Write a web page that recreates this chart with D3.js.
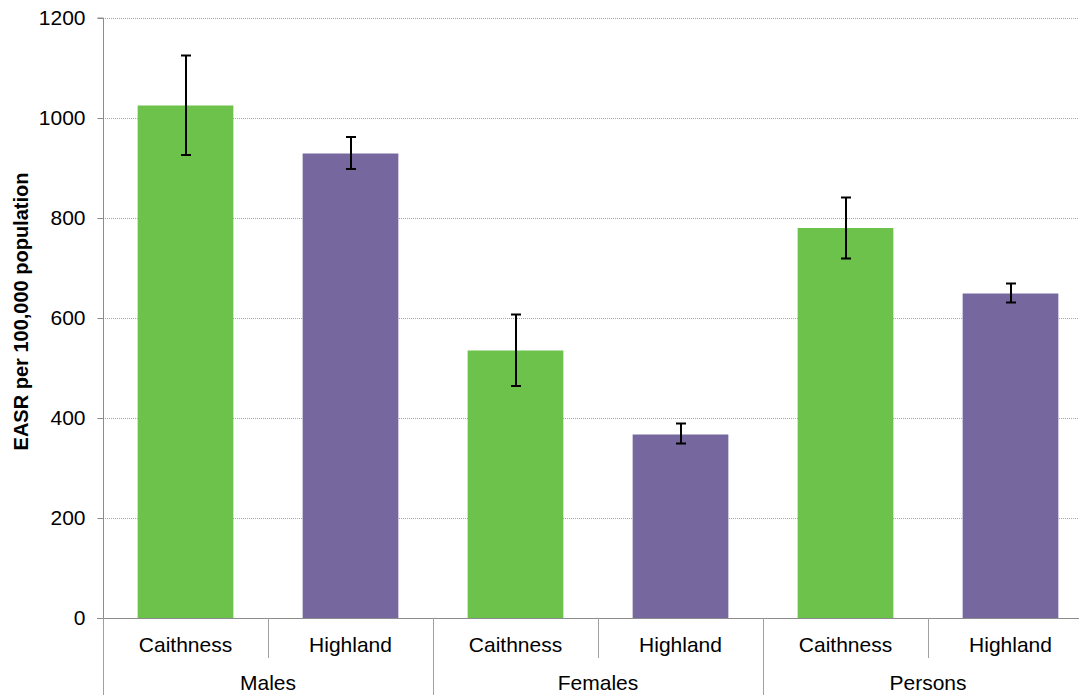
<!DOCTYPE html>
<html>
<head>
<meta charset="utf-8">
<script src="https://cdn.jsdelivr.net/npm/d3@7"></script>
<style>
  html, body { margin: 0; padding: 0; background: #fff; }
  svg { display: block; font-family: "Liberation Sans", Arial, sans-serif; }
</style>
</head>
<body>
<svg id="chart" width="1079" height="695"></svg>
<script>
// ---- data ----
const groups = ["Males", "Females", "Persons"];
const areas = ["Caithness", "Highland"];
const values = [1025, 929, 535, 367, 780, 649];
const lowerCI = [926, 898, 464, 349, 719, 631];
const upperCI = [1125, 962, 607, 389, 841, 669];
const yTicks = [0, 200, 400, 600, 800, 1000, 1200];
const colors = { "Caithness": "#6DC24B", "Highland": "#76689F" };

// build rows
const rows = [];
groups.forEach((g, gi) => areas.forEach((a, ai) => {
  const i = gi * areas.length + ai;
  rows.push({ key: g + "|" + a, group: g, area: a, value: values[i], lo: lowerCI[i], hi: upperCI[i] });
}));

const svg = d3.select("#chart");
const x0 = 103, x1 = 1093, yTop = 18, yBottom = 618;

const x = d3.scaleBand().domain(rows.map(d => d.key)).range([x0, x1]).paddingInner(0.42).paddingOuter(0.21);
const xCat = d3.scaleBand().domain(rows.map(d => d.key)).range([x0, x1]);
const xGroup = d3.scaleBand().domain(groups).range([x0, x1]);
const y = d3.scaleLinear().domain([0, 1200]).range([yBottom, yTop]);

// gridlines
svg.append("g").selectAll("line").data(yTicks.filter(t => t > 0)).join("line")
  .attr("x1", x0).attr("x2", 1079)
  .attr("y1", d => Math.round(y(d)) + 0.5).attr("y2", d => Math.round(y(d)) + 0.5)
  .attr("stroke", "#a8a8a8").attr("stroke-width", 1).attr("stroke-dasharray", "1,1");

// y axis
const yAxis = svg.append("g").attr("transform", `translate(${x0 + 0.5},0)`)
  .call(d3.axisLeft(y).tickValues(yTicks).tickSize(6).tickPadding(12).tickFormat(d3.format("d")));
yAxis.select(".domain").attr("stroke", "#8c8c8c").attr("d", `M-6,${y(1200)}H0V${yBottom}`);
yAxis.selectAll(".tick line").attr("stroke", "#8c8c8c");
yAxis.selectAll(".tick text").attr("font-size", "21px").attr("fill", "#000")
  .attr("font-family", "Liberation Sans, Arial, sans-serif");

// bars
svg.append("g").selectAll("rect").data(rows).join("rect")
  .attr("x", d => x(d.key)).attr("width", x.bandwidth())
  .attr("y", d => y(d.value)).attr("height", d => y(0) - y(d.value))
  .attr("fill", d => colors[d.area]);

// error bars
const eb = svg.append("g").attr("stroke", "#000").attr("stroke-width", 2);
rows.forEach(d => {
  const cx = Math.round(x(d.key) + x.bandwidth() / 2);
  eb.append("line").attr("x1", cx).attr("x2", cx).attr("y1", y(d.hi)).attr("y2", y(d.lo));
  eb.append("line").attr("x1", cx - 5).attr("x2", cx + 5).attr("y1", y(d.hi)).attr("y2", y(d.hi));
  eb.append("line").attr("x1", cx - 5).attr("x2", cx + 5).attr("y1", y(d.lo)).attr("y2", y(d.lo));
});

// x axis baseline
svg.append("line").attr("x1", x0 - 6).attr("x2", 1079)
  .attr("y1", yBottom + 0.5).attr("y2", yBottom + 0.5).attr("stroke", "#8c8c8c");

// category separators
const inner = rows.map(d => xCat(d.key)).filter((v, i) => i % areas.length !== 0);
svg.append("g").selectAll("line").data(inner).join("line")
  .attr("x1", d => Math.round(d) + 0.5).attr("x2", d => Math.round(d) + 0.5)
  .attr("y1", yBottom).attr("y2", 658).attr("stroke", "#a0a0a0");
const outer = groups.map(g => xGroup(g)).concat([x1]);
svg.append("g").selectAll("line").data(outer).join("line")
  .attr("x1", d => Math.round(d) + 0.5).attr("x2", d => Math.round(d) + 0.5)
  .attr("y1", yBottom).attr("y2", 695).attr("stroke", "#a0a0a0");

// category labels
svg.append("g").selectAll("text").data(rows).join("text")
  .attr("x", d => xCat(d.key) + xCat.bandwidth() / 2).attr("y", 652)
  .attr("text-anchor", "middle").attr("font-size", "21px").attr("fill", "#000")
  .text(d => d.area);
svg.append("g").selectAll("text").data(groups).join("text")
  .attr("x", d => xGroup(d) + xGroup.bandwidth() / 2).attr("y", 690)
  .attr("text-anchor", "middle").attr("font-size", "21px").attr("fill", "#000")
  .text(d => d);

// y title
svg.append("text")
  .attr("transform", `translate(28,${(174 + 449) / 2}) rotate(-90)`)
  .attr("text-anchor", "middle").attr("font-size", "20px").attr("font-weight", "bold")
  .attr("fill", "#000").text("EASR per 100,000 population");
</script>
</body>
</html>
